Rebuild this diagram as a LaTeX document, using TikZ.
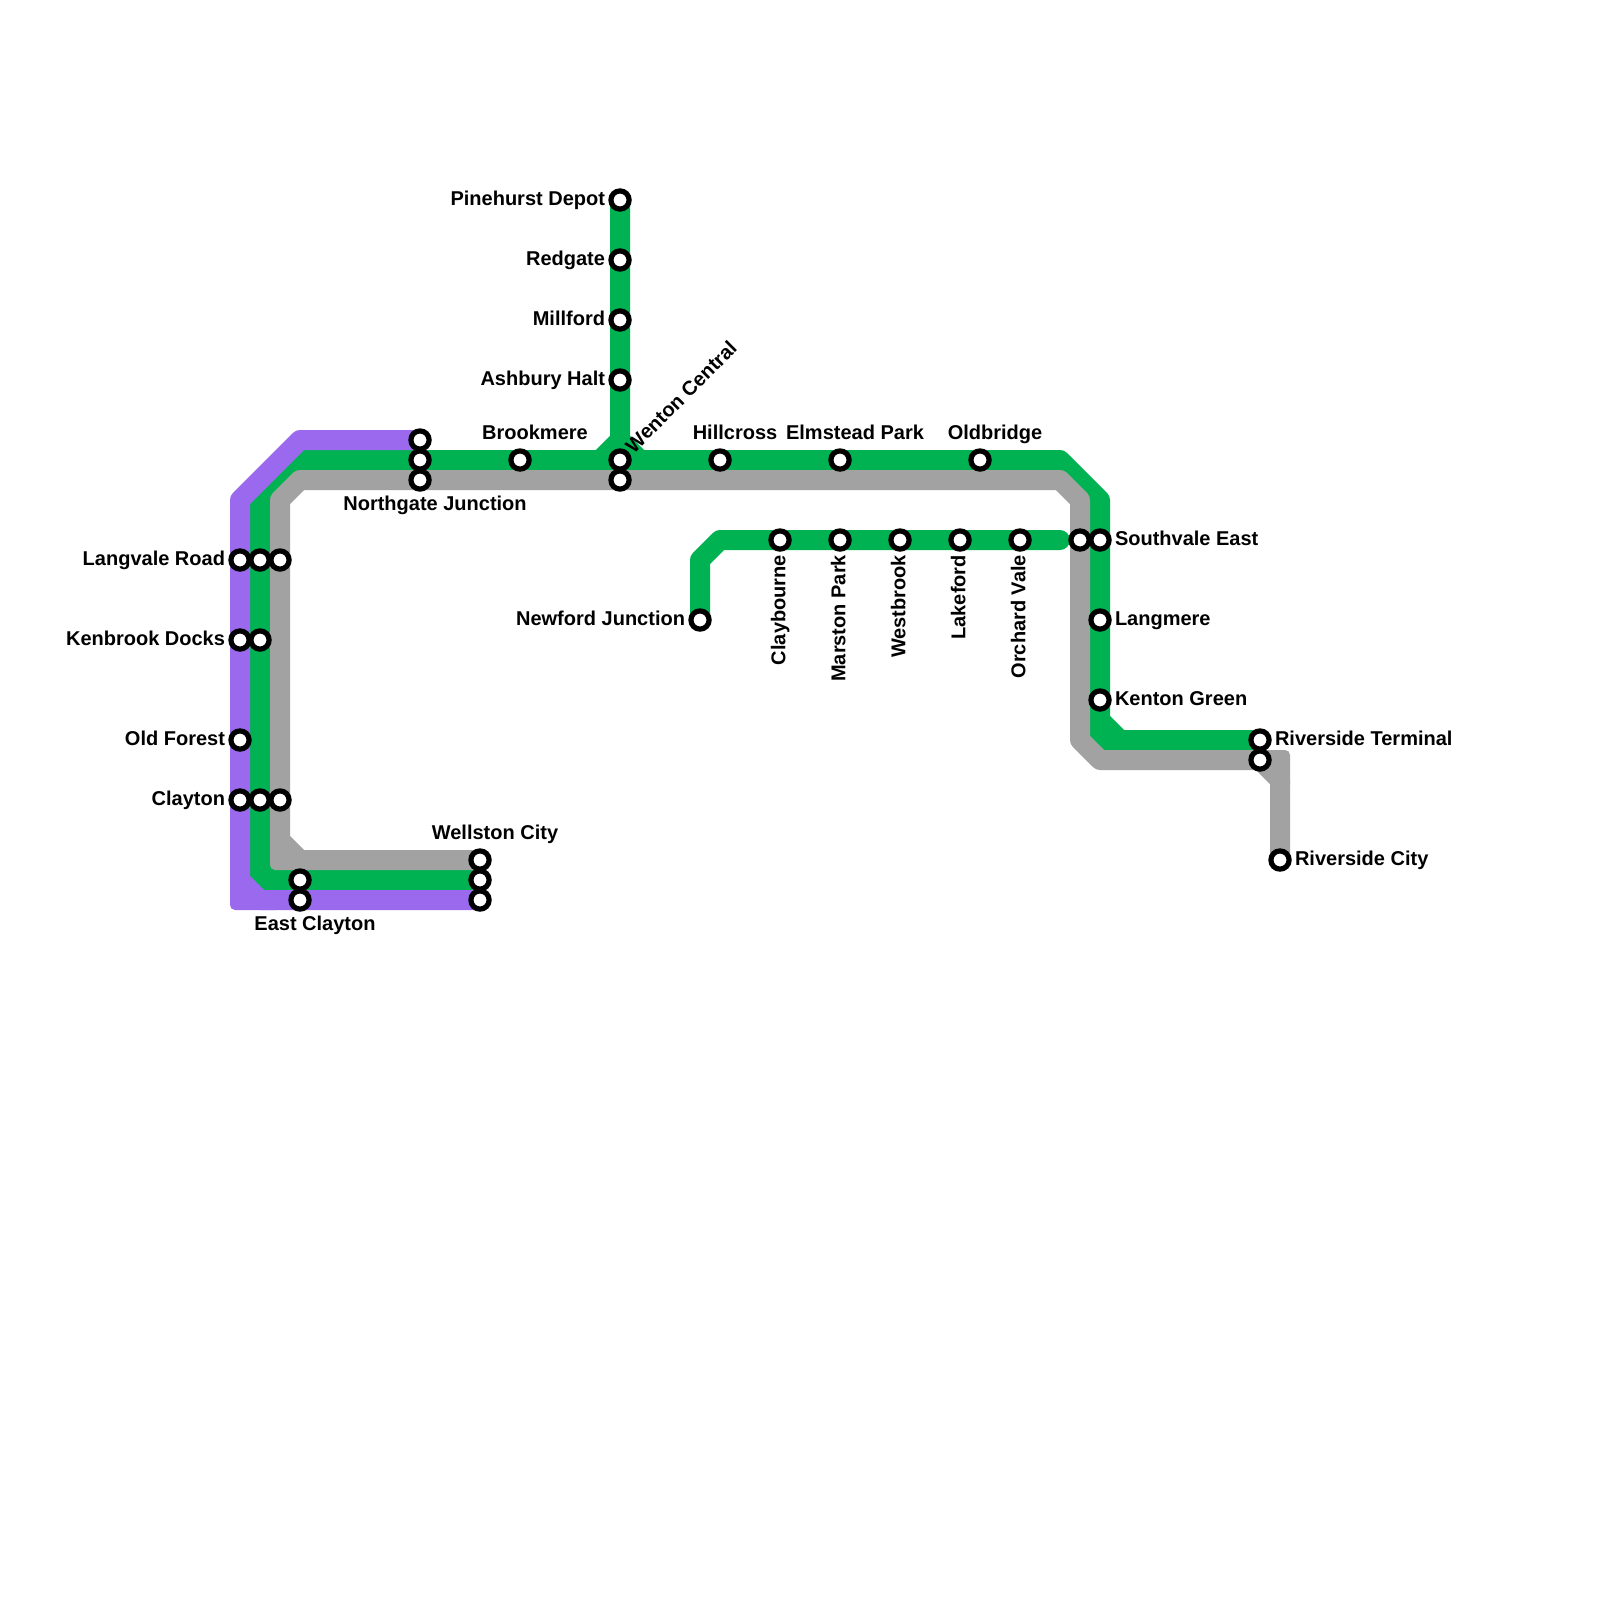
\documentclass[tikz,border=0pt]{standalone}
\usepackage{fontspec}
\setmainfont{Liberation Sans}
\definecolor{linepurple}{HTML}{9A69EE}
\definecolor{linegreen}{HTML}{00B251}
\definecolor{linegray}{HTML}{A2A2A2}
\pgfdeclarelayer{lines}
\pgfsetlayers{lines,main}
\tikzset{
  station/.style={circle,draw=black,fill=white,line width=5.2pt,minimum size=18.2pt,inner sep=0pt,outer sep=0pt},
  txt/.style={font=\fontsize{20}{24}\selectfont\bfseries,text=black,inner sep=0pt,outer sep=0pt,text height=14.5pt,text depth=4pt},
  lblleft/.style={txt,anchor=east,xshift=-15pt},
  lblright/.style={txt,anchor=west,xshift=15pt},
  lblabove/.style={txt,anchor=center,xshift=15pt,yshift=26pt},
  lblbelow/.style={txt,anchor=center,xshift=15pt,yshift=-25pt},
  lblvert/.style={txt,anchor=east,rotate=90},
  lblslant/.style={txt,anchor=west,rotate=45,xshift=14pt,yshift=-0.3pt},
  metro/.style={line width=20pt,line join=round,line cap=round},
  patch/.style={rounded corners=5pt},
}
\begin{document}
\begin{tikzpicture}[x=1pt,y=-1pt]
\useasboundingbox (0,0) rectangle (1600,1600);
% stations
\node[station] (pLangvale) at (240,560) {};
\node[station] (gLangvale) at (260,560) {};
\node[station] (yLangvale) at (280,560) {};
\node[station] (pKenbrook) at (240,640) {};
\node[station] (gKenbrook) at (260,640) {};
\node[station] (pOldForest) at (240,740) {};
\node[station] (pClayton) at (240,800) {};
\node[station] (gClayton) at (260,800) {};
\node[station] (yClayton) at (280,800) {};
\node[station] (pNorthgate) at (420,440) {};
\node[station] (gNorthgate) at (420,460) {};
\node[station] (yNorthgate) at (420,480) {};
\node[station] (gBrookmere) at (520,460) {};
\node[station] (gWenton) at (620,460) {};
\node[station] (yWenton) at (620,480) {};
\node[station] (gHillcross) at (720,460) {};
\node[station] (gElmstead) at (840,460) {};
\node[station] (gOldbridge) at (980,460) {};
\node[station] (gPinehurst) at (620,200) {};
\node[station] (gRedgate) at (620,260) {};
\node[station] (gMillford) at (620,320) {};
\node[station] (gAshbury) at (620,380) {};
\node[station] (gNewford) at (700,620) {};
\node[station] (gClaybourne) at (780,540) {};
\node[station] (gMarston) at (840,540) {};
\node[station] (gWestbrook) at (900,540) {};
\node[station] (gLakeford) at (960,540) {};
\node[station] (gOrchard) at (1020,540) {};
\node[station] (ySouthvale) at (1080,540) {};
\node[station] (gSouthvale) at (1100,540) {};
\node[station] (gLangmere) at (1100,620) {};
\node[station] (gKenton) at (1100,700) {};
\node[station] (gTerminal) at (1260,740) {};
\node[station] (yTerminal) at (1260,760) {};
\node[station] (yCity) at (1280,860) {};
\node[station] (yWellston) at (480,860) {};
\node[station] (gWellston) at (480,880) {};
\node[station] (pWellston) at (480,900) {};
\node[station] (gEast) at (300,880) {};
\node[station] (pEast) at (300,900) {};
% labels
\node[lblleft] (tLangvale) at (pLangvale) {Langvale Road};
\node[lblleft] (tKenbrook) at (pKenbrook) {Kenbrook Docks};
\node[lblleft] (tOldForest) at (pOldForest) {Old Forest};
\node[lblleft] (tClayton) at (pClayton) {Clayton};
\node[lblleft] (tPinehurst) at (gPinehurst) {Pinehurst Depot};
\node[lblleft] (tRedgate) at (gRedgate) {Redgate};
\node[lblleft] (tMillford) at (gMillford) {Millford};
\node[lblleft] (tAshbury) at (gAshbury) {Ashbury Halt};
\node[lblleft] (tNewford) at (gNewford) {Newford Junction};
\node[lblabove] (tBrookmere) at (gBrookmere) {Brookmere};
\node[lblabove] (tHillcross) at (gHillcross) {Hillcross};
\node[lblabove] (tElmstead) at (gElmstead) {Elmstead Park};
\node[lblabove] (tOldbridge) at (gOldbridge) {Oldbridge};
\node[lblabove] (tWellston) at (yWellston) {Wellston City};
\node[lblbelow] (tNorthgate) at (yNorthgate) {Northgate Junction};
\node[lblbelow] (tEast) at (pEast) {East Clayton};
\node[lblright] (tSouthvale) at (gSouthvale) {Southvale East};
\node[lblright] (tLangmere) at (gLangmere) {Langmere};
\node[lblright] (tKenton) at (gKenton) {Kenton Green};
\node[lblright] (tTerminal) at (gTerminal) {Riverside Terminal};
\node[lblright] (tCity) at (yCity) {Riverside City};
\node[lblslant] (tWenton) at (gWenton) {Wenton Central};
\node[lblvert] (tClaybourne) at ([yshift=-15pt]gClaybourne.center) {Claybourne};
\node[lblvert] (tMarston) at ([yshift=-15pt]gMarston.center) {Marston Park};
\node[lblvert] (tWestbrook) at ([yshift=-15pt]gWestbrook.center) {Westbrook};
\node[lblvert] (tLakeford) at ([yshift=-15pt]gLakeford.center) {Lakeford};
\node[lblvert] (tOrchard) at ([yshift=-15pt]gOrchard.center) {Orchard Vale};
% free ends and bends
\coordinate (fork) at (620,440);
\coordinate (greenEnd) at (1060,540);
\begin{pgfonlayer}{lines}
% green: underneath
\draw[metro,linegreen] (gWellston.center) -- (280,880) -- (260,860) -- (gClayton.center) -- (gKenbrook.center) -- (gLangvale.center) -- (260,500) -- (300,460) -- (gNorthgate.center) -- (gBrookmere.center) -- (gWenton.center) -- (gHillcross.center) -- (gElmstead.center) -- (gOldbridge.center) -- (1060,460) -- (1100,500) -- (gSouthvale.center) -- (gLangmere.center) -- (gKenton.center) -- (1100,720) -- (1120,740) -- (gTerminal.center);
\draw[metro,linegreen] (gPinehurst.center) -- (gRedgate.center) -- (gMillford.center) -- (gAshbury.center) -- (fork) -- (600,460);
\draw[metro,linegreen] (fork) -- (640,460);
\draw[metro,linegreen] (gNewford.center) -- (700,560) -- (720,540) -- (gClaybourne.center) -- (gMarston.center) -- (gWestbrook.center) -- (gLakeford.center) -- (gOrchard.center) -- (greenEnd);
\fill[linegreen,patch] (1090,700) -- (1090,750) -- (1140,750) -- (1140,740) -- (1120,740) -- (1100,720) -- (1100,700) -- cycle;
\fill[linegreen,patch] (250,840) -- (250,890) -- (300,890) -- (300,880) -- (280,880) -- (260,860) -- (260,840) -- cycle;
% gray
\draw[metro,linegray] (yWellston.center) -- (300,860) -- (280,840) -- (yClayton.center) -- (yLangvale.center) -- (280,500) -- (300,480) -- (yNorthgate.center) -- (yWenton.center) -- (1060,480) -- (1080,500) -- (ySouthvale.center) -- (1080,740) -- (1100,760) -- (yTerminal.center) -- (1280,780) -- (yCity.center);
\fill[linegray,patch] (270,825) -- (270,870) -- (315,870) -- (315,860) -- (300,860) -- (280,840) -- (280,825) -- cycle;
\fill[linegray,patch] (1245,750) -- (1290,750) -- (1290,790) -- (1280,790) -- (1280,780) -- (1260,760) -- (1245,760) -- cycle;
% purple
\draw[metro,linepurple] (pNorthgate.center) -- (300,440) -- (240,500) -- (pLangvale.center) -- (pKenbrook.center) -- (pOldForest.center) -- (pClayton.center) -- (240,880) -- (260,900) -- (pEast.center) -- (pWellston.center);
\fill[linepurple,patch] (230,860) -- (230,910) -- (280,910) -- (280,900) -- (260,900) -- (240,880) -- (240,860) -- cycle;
\end{pgfonlayer}
\end{tikzpicture}
\end{document}
